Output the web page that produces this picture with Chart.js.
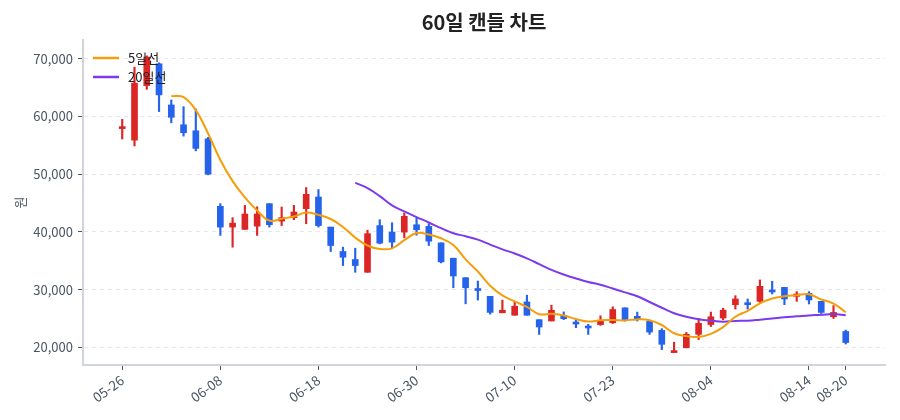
<!DOCTYPE html>
<html><head><meta charset="utf-8">
<script src="https://cdn.jsdelivr.net/npm/chart.js@4.4.1/dist/chart.umd.min.js"></script>
<style>html,body{margin:0;padding:0;background:#fff}#wrap{width:900px;height:420px;position:relative}</style>
</head><body><div id="wrap"><canvas id="c"></canvas></div>
<script>
const dates = ['05-26','05-27','05-28','05-29','05-30','06-02','06-04','06-05','06-08','06-09',
  '06-10','06-11','06-12','06-13','06-16','06-17','06-18','06-19','06-20','06-23',
  '06-24','06-25','06-26','06-27','06-30','07-01','07-02','07-03','07-04','07-07',
  '07-08','07-09','07-10','07-11','07-14','07-15','07-17','07-18','07-21','07-22',
  '07-23','07-24','07-25','07-28','07-29','07-30','07-31','08-01','08-04','08-05',
  '08-06','08-07','08-08','08-11','08-12','08-13','08-14','08-18','08-19','08-20'];
const tickIdx = [0, 8, 16, 24, 32, 40, 48, 56, 59];
const yTicks = [20000, 30000, 40000, 50000, 60000, 70000];

const opens = [57900,55900,65350,69130,62000,58570,57530,56140,44440,40840,
  40440,41000,44900,41880,42470,44030,46060,40840,36610,35220,
  33010,41100,39970,39970,41250,40960,38110,35450,32080,30200,
  28840,26000,25570,27880,24800,24580,25570,24400,23600,23950,
  24270,26850,25380,24500,22960,19100,19930,22260,23960,25090,
  27400,27640,27980,29950,30400,28840,29370,27980,25310,22760];
const highs = [59500,68550,70500,69300,62870,61700,61300,56380,44900,42470,
  44600,44350,44900,44320,44600,47690,47340,40840,37360,37180,
  40300,42120,41600,43280,42470,41420,38110,35450,32080,31500,
  28840,28200,27880,29040,24800,27310,26150,24800,24000,25470,
  27020,26850,26120,24500,23250,20900,22600,25040,26120,26790,
  28960,28390,31690,31460,30400,29660,29660,27980,27230,23000];
const lows = [56100,54900,64700,60850,58900,56600,54050,49900,39400,37360,
  40440,39400,40840,41100,42120,41420,40840,36610,34180,33010,
  33010,37930,37250,39000,39440,37650,34640,30330,27550,28200,
  25760,26000,25570,25570,22240,24580,24810,23420,22240,23820,
  24130,24560,24570,22250,19600,19100,19930,21360,23610,24780,
  26640,26640,27800,29250,27400,27980,27520,25880,25010,20580];
const closes = [58000,65770,70300,63740,59860,57180,54470,50000,40840,41530,
  43100,43100,41250,42470,43450,46520,41100,37650,35620,34180,
  39700,38050,38230,42700,40380,38400,34810,32370,30330,29850,
  26060,26440,27130,25570,23530,26440,24980,24050,23360,24680,
  26560,24740,24920,22650,20530,19400,22260,24170,25300,26440,
  28390,27400,30580,29600,28390,29250,28220,26060,26060,20840];
const ma5 = [null,null,null,null,63534,63370,61110,57050,52470,48804,
  45988,43714,41964,42290,42674,43358,42958,42238,40868,39014,
  37650,37040,37156,38572,39812,39552,38904,37732,35258,33152,
  30684,29010,27962,27010,25746,25822,25530,24914,24472,24702,
  24726,24678,24852,24710,23880,22448,21952,21802,22332,23514,
  25312,26340,27622,28482,28872,29044,29208,28304,27600,26090];
const ma20 = [null,null,null,null,null,null,null,null,null,null,
  null,null,null,null,null,null,null,null,null,48507,
  47592,46206,44602,43550,42576,41637,40654,39773,39247,38663,
  37811,36978,36272,35427,34431,33427,32621,31941,31328,30853,
  30196,29531,28865,27863,26870,25920,25293,24883,24631,24461,
  24577,24625,24798,24999,25242,25383,25545,25645,25780,25588];

const UP = '#dc2626', DOWN = '#2563eb', C5 = '#f59e0b', C20 = '#7c3aed';
const FONT = '"Noto Sans CJK KR", "Noto Sans", sans-serif';
Chart.defaults.font.family = FONT;

const idx = closes.map((_, i) => i);
const colors = idx.map(i => closes[i] >= opens[i] ? UP : DOWN);
const toPts = arr => arr.map((v, i) => v == null ? null : {x: i, y: v}).filter(p => p);

const insideLegend = {
  id: 'insideLegend',
  afterDraw(chart) {
    const {ctx, chartArea: a} = chart;
    const items = chart.data.datasets.filter(d => d.type === 'line');
    ctx.save();
    items.forEach((d, k) => {
      const y = a.top + 18 + k * 19;
      ctx.strokeStyle = d.borderColor;
      ctx.lineWidth = 2.5;
      ctx.beginPath(); ctx.moveTo(a.left + 10, y); ctx.lineTo(a.left + 36, y); ctx.stroke();
      ctx.fillStyle = '#222';
      ctx.font = '13px ' + FONT;
      ctx.textBaseline = 'middle';
      ctx.textAlign = 'left';
      ctx.fillText(d.label, a.left + 45, y);
    });
    ctx.restore();
  }
};

new Chart(document.getElementById('c'), {
  type: 'bar',
  data: {
    datasets: [
      {type: 'line', label: '5일선', data: toPts(ma5), borderColor: C5, borderWidth: 2, pointRadius: 0, tension: 0.4, order: 0},
      {type: 'line', label: '20일선', data: toPts(ma20), borderColor: C20, borderWidth: 2, pointRadius: 0, tension: 0.4, order: 0},
      {type: 'bar', label: 'body', data: idx.map(i => ({x: i, y: [opens[i], closes[i]]})), backgroundColor: colors,
        barThickness: 6, minBarLength: 2, grouped: false, borderWidth: 0, order: 1},
      {type: 'bar', label: 'wick', data: idx.map(i => ({x: i, y: [lows[i], highs[i]]})), backgroundColor: colors,
        barThickness: 1.5, grouped: false, borderWidth: 0, order: 2}
    ]
  },
  options: {
    responsive: true, maintainAspectRatio: false, animation: false,
    layout: {padding: {left: 0, right: 15, top: 0, bottom: 0}},
    plugins: {
      legend: {display: false},
      tooltip: {enabled: false},
      title: {display: true, text: '60일 캔들 차트', color: '#222', fullSize: false,
        font: {size: 20, weight: 'bold'}, padding: {top: 10, bottom: 6}}
    },
    scales: {
      x: {
        type: 'linear', min: -3.2, max: 62.2, offset: false,
        afterBuildTicks: s => { s.ticks = tickIdx.map(v => ({value: v})); },
        afterFit: s => { s.height = 55; },
        ticks: {autoSkip: false, maxRotation: 36, minRotation: 36, color: '#4b5563', font: {size: 13.5}, padding: 2,
          callback: v => dates[v] ?? ''},
        grid: {offset: false, drawOnChartArea: false, drawTicks: true, tickLength: 5, tickColor: '#4b5563', tickWidth: 1},
        border: {color: '#d1d5db', width: 2}
      },
      y: {
        min: 16950, max: 73250,
        afterBuildTicks: s => { s.ticks = yTicks.map(v => ({value: v})); },
        afterFit: s => { s.width = 83; },
        ticks: {color: '#4b5563', font: {size: 13}, padding: 5, callback: v => v.toLocaleString('en-US')},
        grid: {color: '#e5e7eb', tickColor: '#4b5563', tickLength: 5, lineWidth: 1},
        border: {color: '#d1d5db', width: 2, dash: [4, 4]},
        title: {display: true, text: '원', color: '#4b5563', font: {size: 13}, padding: {top: 12}}
      }
    }
  },
  plugins: [insideLegend]
});
</script></body></html>
